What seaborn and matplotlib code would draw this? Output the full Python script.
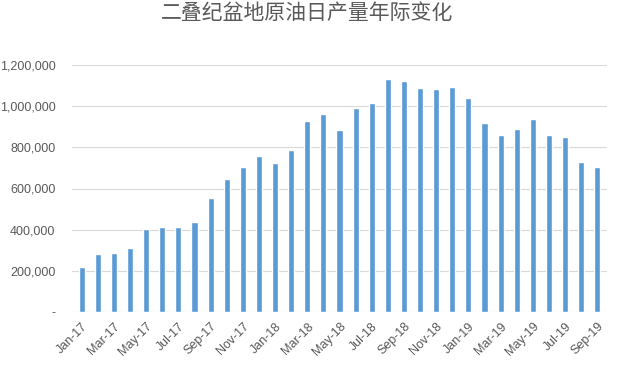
import matplotlib
matplotlib.use("Agg")
import matplotlib.pyplot as plt
import seaborn as sns
import pandas as pd
from matplotlib.ticker import FuncFormatter

months = ["Jan-17", "Feb-17", "Mar-17", "Apr-17", "May-17", "Jun-17", "Jul-17", "Aug-17",
          "Sep-17", "Oct-17", "Nov-17", "Dec-17", "Jan-18", "Feb-18", "Mar-18", "Apr-18",
          "May-18", "Jun-18", "Jul-18", "Aug-18", "Sep-18", "Oct-18", "Nov-18", "Dec-18",
          "Jan-19", "Feb-19", "Mar-19", "Apr-19", "May-19", "Jun-19", "Jul-19", "Aug-19",
          "Sep-19"]
production = [219000, 284000, 289000, 310000, 402000, 412000, 412000, 439000,
              555000, 644000, 705000, 756000, 725000, 788000, 929000, 963000,
              882000, 989000, 1014000, 1130000, 1124000, 1086000, 1082000, 1091000,
              1038000, 918000, 858000, 887000, 939000, 859000, 848000, 730000,
              705000]
y_ticks = [0, 200000, 400000, 600000, 800000, 1000000, 1200000]
title = "二叠纪盆地原油日产量年际变化"

df = pd.DataFrame({"month": months, "production": production})

sns.set_theme(style="white")
plt.rcParams["font.family"] = ["Noto Sans CJK SC", "DejaVu Sans"]

fig = plt.figure(figsize=(6.18, 3.76), dpi=100)
ax = fig.add_axes([72 / 618, 1 - 312 / 376, (607 - 72) / 618, (312 - 65) / 376])

sns.barplot(data=df, x="month", y="production", color="#5B9BD5", width=0.38,
            saturation=1, ax=ax)

ax.set_ylim(0, 1200000)
ax.set_xlim(-0.6, len(months) - 0.4)
ax.set_yticks(y_ticks)
ax.yaxis.set_major_formatter(FuncFormatter(lambda v, p: "-" if v == 0 else f"{int(v):,}"))
ax.grid(axis="y", color="#D9D9D9", linewidth=0.8)
ax.set_axisbelow(True)
for s in ax.spines.values():
    s.set_visible(False)

tick_pos = list(range(0, len(months), 2))
ax.set_xticks(tick_pos)
ax.set_xticklabels([months[i] for i in tick_pos], rotation=45, ha="right",
                   rotation_mode="anchor", fontsize=9, color="#595959",
                   family=["Liberation Sans", "DejaVu Sans"])
for lab in ax.get_yticklabels():
    lab.set_fontsize(9)
    lab.set_color("#595959")
    lab.set_family(["Liberation Sans", "DejaVu Sans"])
ax.tick_params(axis="x", length=0, pad=6)
ax.tick_params(axis="y", length=0, pad=12)
ax.set_xlabel("")
ax.set_ylabel("")

fig.text(0.496, 1 - 13 / 376, title, ha="center", va="center", fontsize=15, color="#595959")

fig.savefig("out.png", dpi=100)
